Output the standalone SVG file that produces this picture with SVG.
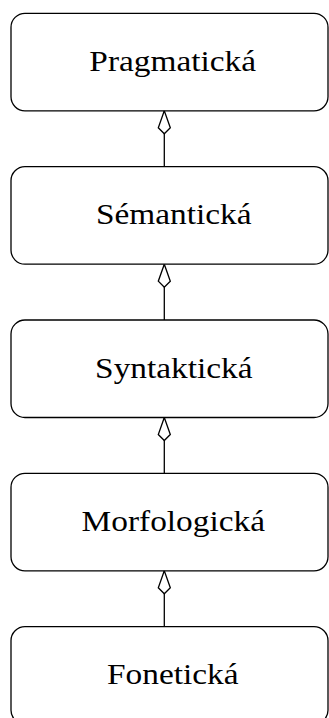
<svg xmlns="http://www.w3.org/2000/svg" width="329" height="718" viewBox="0 0 329 718">
<style>
.box{fill:#fff;stroke:#000;stroke-width:1.3}
.lbl{font-family:'Liberation Serif',serif;font-size:29px;fill:#000;text-anchor:middle}
.con{stroke:#000;stroke-width:1.3;fill:none;marker-end:url(#dia)}
</style>
<defs>
<marker id="dia" markerUnits="userSpaceOnUse" viewBox="-24 -7 25 14" markerWidth="25" markerHeight="14" refX="0" refY="0" orient="auto">
<path d="M0,0 L-17,-6 L-23,0 L-17,6 Z" fill="#fff" stroke="#000" stroke-width="1.3" stroke-linejoin="miter"/>
</marker>
</defs>
<rect width="329" height="718" fill="#fff"/>
<g id="connectors">
<line class="con" x1="164.3" y1="166.7" x2="164.3" y2="110.8"/>
<line class="con" x1="164.3" y1="320" x2="164.3" y2="264.2"/>
<line class="con" x1="164.3" y1="473.3" x2="164.3" y2="417.5"/>
<line class="con" x1="164.3" y1="626.7" x2="164.3" y2="570.8"/>
</g>
<g id="pragmaticka">
<rect class="box" x="11" y="13.3" width="317" height="97.5" rx="14"/>
<text class="lbl" transform="translate(172.7 70.8) scale(1.15 1)">Pragmatická</text>
</g>
<g id="semanticka">
<rect class="box" x="11" y="166.7" width="317" height="97.5" rx="14"/>
<text class="lbl" transform="translate(173.7 224.2) scale(1.15 1)">Sémantická</text>
</g>
<g id="syntakticka">
<rect class="box" x="11" y="320" width="317" height="97.5" rx="14"/>
<text class="lbl" transform="translate(173.8 377.5) scale(1.15 1)">Syntaktická</text>
</g>
<g id="morfologicka">
<rect class="box" x="11" y="473.3" width="317" height="97.5" rx="14"/>
<text class="lbl" transform="translate(173.3 530.8) scale(1.15 1)">Morfologická</text>
</g>
<g id="foneticka">
<rect class="box" x="11" y="626.7" width="317" height="97.5" rx="14"/>
<text class="lbl" transform="translate(172.8 684.2) scale(1.15 1)">Fonetická</text>
</g>
</svg>
